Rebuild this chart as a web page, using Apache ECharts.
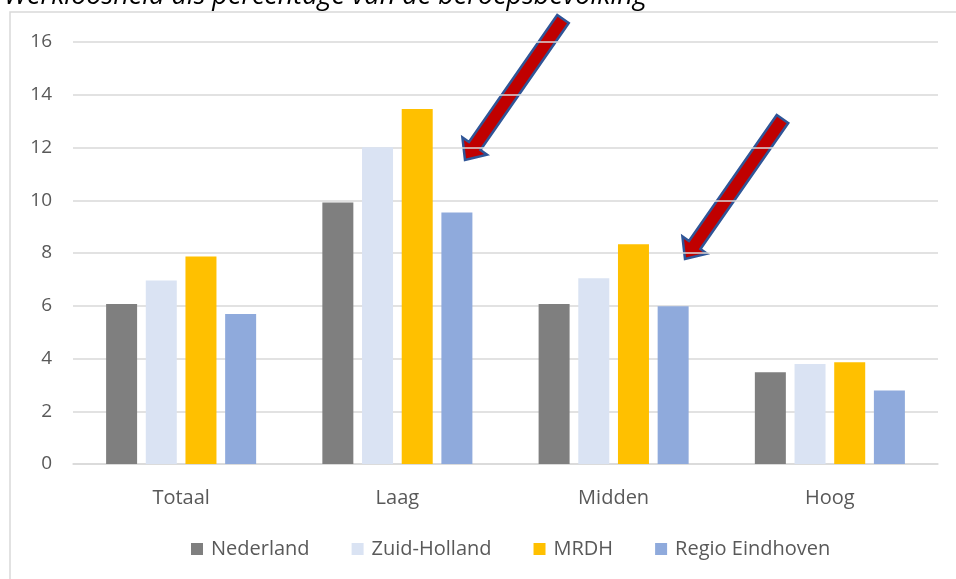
<!DOCTYPE html>
<html><head><meta charset="utf-8">
<script src="https://cdn.jsdelivr.net/npm/echarts@6/dist/echarts.min.js"></script>
<style>html,body{margin:0;padding:0;background:#fff}#c{width:956px;height:579px}</style>
</head><body><div id="c"></div>
<script>
const categories = ['Totaal', 'Laag', 'Midden', 'Hoog'];
const nederland = [6.07, 9.91, 6.07, 3.48];
const zuidHolland = [6.96, 12.01, 7.04, 3.79];
const mrdh = [7.87, 13.46, 8.33, 3.86];
const regioEindhoven = [5.69, 9.54, 5.98, 2.79];
const seriesNames = ['Nederland', 'Zuid-Holland', 'MRDH', 'Regio Eindhoven'];
const yTicks = [0, 2, 4, 6, 8, 10, 12, 14, 16];
const titleText = 'Werkloosheid als percentage van de beroepsbevolking';

const colors = ['#7F7F7F', '#DAE3F3', '#FFC000', '#8FAADC'];
const font = '"Open Sans", "Noto Sans", sans-serif';

function arrowPoints(tail, tip, shaftHalf, headHalf, headLen) {
  const dx = tip[0] - tail[0], dy = tip[1] - tail[1];
  const L = Math.hypot(dx, dy);
  const ux = dx / L, uy = dy / L;
  const nx = -uy, ny = ux;
  const bx = tip[0] - ux * headLen, by = tip[1] - uy * headLen;
  return [
    [tail[0] + nx * shaftHalf, tail[1] + ny * shaftHalf],
    [bx + nx * shaftHalf, by + ny * shaftHalf],
    [bx + nx * headHalf, by + ny * headHalf],
    [tip[0], tip[1]],
    [bx - nx * headHalf, by - ny * headHalf],
    [bx - nx * shaftHalf, by - ny * shaftHalf],
    [tail[0] - nx * shaftHalf, tail[1] - ny * shaftHalf]
  ];
}

const chart = echarts.init(document.getElementById('c'), null, {renderer: 'canvas'});
const data = [nederland, zuidHolland, mrdh, regioEindhoven];
chart.setOption({
  animation: false,
  textStyle: {fontFamily: font},
  grid: {left: 73, right: 18, top: 42, bottom: 115, containLabel: false},
  xAxis: {
    type: 'category', data: categories,
    axisLine: {show: true, lineStyle: {color: '#D9D9D9', width: 1.5}},
    axisTick: {show: false},
    axisLabel: {color: '#595959', fontSize: 20, margin: 24, fontFamily: font}
  },
  yAxis: {
    type: 'value', min: yTicks[0], max: yTicks[yTicks.length - 1], interval: 2,
    axisLine: {show: false}, axisTick: {show: false},
    splitLine: {lineStyle: {color: '#D9D9D9', width: 1.5}},
    axisLabel: {color: '#595959', fontSize: 19, margin: 21, fontFamily: font}
  },
  legend: {
    bottom: 15, left: 186, itemWidth: 12, itemHeight: 12, itemGap: 42,
    icon: 'rect',
    textStyle: {color: '#595959', fontSize: 20, fontFamily: font, padding: [0, 0, 0, 3]},
    data: seriesNames
  },
  series: seriesNames.map((n, i) => ({
    name: n, type: 'bar', data: data[i],
    itemStyle: {color: colors[i]},
    barWidth: 31, barGap: '28%', barCategoryGap: '30%'
  })),
  graphic: [
    {type: 'rect', shape: {x: 10, y: 12, width: 1000, height: 700}, style: {fill: 'none', stroke: '#D9D9D9', lineWidth: 1.5}, silent: true},
    {type: 'text', left: 4, top: -17, style: {text: titleText, font: 'italic 27px ' + font, fill: '#000'}},
    {type: 'polygon', shape: {points: arrowPoints([563, 19], [465, 160], 7, 15, 17)}, style: {fill: '#C00000', stroke: '#2F5597', lineWidth: 2.5}},
    {type: 'polygon', shape: {points: arrowPoints([782.5, 119], [685, 259], 7, 15, 17)}, style: {fill: '#C00000', stroke: '#2F5597', lineWidth: 2.5}}
  ]
});
</script></body></html>
